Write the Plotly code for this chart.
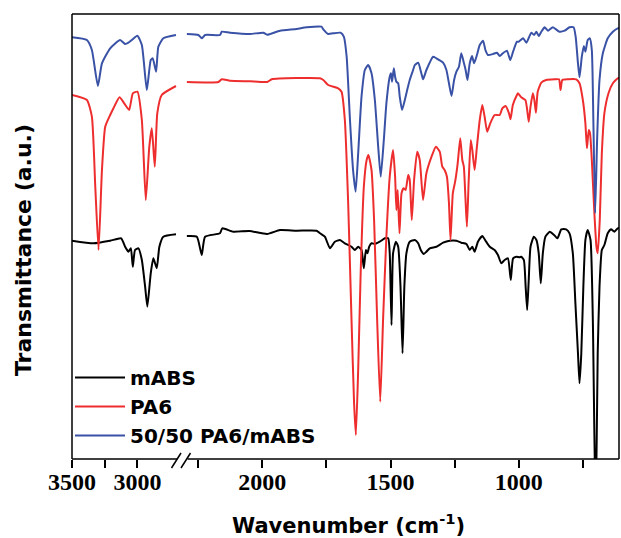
import plotly.graph_objects as go

# ---------------- data (wavenumber in cm-1, transmittance in a.u., stacked) ----------------
# high-wavenumber segment (3500-2700)
mabs_wn_hi = [3500, 3335, 3208, 3124, 3094, 3068, 3050, 3035, 3018, 2992, 2966, 2941, 2924,
              2898, 2878, 2852, 2832, 2802, 2705]
mabs_t_hi = [217.3, 214.7, 217.3, 219.7, 211.3, 206.3, 209.7, 191.3, 208, 209.7, 198, 171.3, 151.3,
             184.7, 199.7, 189.7, 211.3, 221.3, 223.7]

pa6_wn_hi = [3500, 3386, 3348, 3322, 3297, 3271, 3246, 3208, 3183, 3137, 3101, 3063, 3035, 3000,
             2966, 2936, 2909, 2890, 2867, 2848, 2814, 2705]
pa6_t_hi = [363, 358, 341.3, 271.3, 208, 288, 331.3, 343, 349.7, 360.7, 354.7, 348, 364.7, 366.3,
            338, 258, 311.3, 329.7, 291.3, 344.7, 363, 372]

blend_wn_hi = [3500, 3386, 3348, 3302, 3271, 3208, 3132, 3094, 3068, 3043, 3000, 2966, 2928,
               2898, 2883, 2857, 2840, 2802, 2705]
blend_t_hi = [420.7, 418, 408, 372, 394.7, 409.7, 418, 414, 415.3, 418, 422.3, 413, 368,
              398, 399.7, 386.3, 411.3, 419.7, 423]

# low-wavenumber segment (2300-600)
mabs_wn_lo = [2294, 2255, 2236, 2223, 2165, 2156, 2113, 2050, 1981, 1931, 1866, 1788, 1775, 1756,
              1736, 1717, 1697, 1678, 1652, 1639, 1626, 1613, 1604, 1596, 1590, 1583, 1574, 1561,
              1542, 1522, 1509, 1503, 1496, 1490, 1479, 1470, 1461, 1453, 1446, 1438, 1425, 1405,
              1392, 1382, 1370, 1360, 1347, 1321, 1295, 1269, 1243, 1224, 1204, 1191, 1181, 1172,
              1159, 1142, 1127, 1113, 1094, 1081, 1068, 1055, 1042, 1031, 1022, 1009, 997, 990,
              980, 973, 967, 961, 954, 941, 931, 922, 914, 906, 896, 879, 862, 849, 834, 815, 802,
              789, 779, 769, 763, 756, 748, 740, 731, 720, 711, 700, 692, 685, 676, 666, 653, 640,
              627, 614, 608]
mabs_t_lo = [222, 221.3, 203, 221.3, 224.7, 229.7, 226.3, 227, 224, 228, 227.3, 227.3, 224.7, 221.3,
             209.7, 216.3, 218, 214.7, 211.3, 208, 211.3, 208, 189.7, 208, 204.7, 211.3, 214.7, 214,
             216.3, 219.7, 219.7, 204.7, 133, 204.7, 216.3, 211.3, 171.3, 104.7, 171.3, 204.7, 216.3, 218,
             214.7, 208, 204, 206.3, 209.7, 211.3, 215.3, 217.3, 217.3, 215.3, 214, 208, 211.3, 206.3,
             216.3, 222, 216.3, 211.3, 208, 203, 194.7, 198, 199.7, 178, 199.7, 201.3, 200.7, 201.3,
             198, 171.3, 148, 178, 211.3, 221.3, 218, 204.7, 174.7, 204.7, 221.3, 226.3, 223, 219.7, 228.7, 228.7, 224.7,
             204.7, 154.7, 104.7, 74.7, 104.7, 171.3, 218, 228, 218, 138, -60, 104.7, 171.3, 208, 213, 224.7, 228.7,
             226.3, 229.7, 230]

pa6_wn_lo = [2294, 2171, 2158, 2126, 2048, 1981, 1963, 1775, 1762, 1743, 1704, 1691, 1678, 1665,
             1652, 1642, 1635, 1626, 1616, 1604, 1593, 1586, 1574, 1564, 1552, 1540, 1529, 1516,
             1503, 1490, 1482, 1477, 1472, 1465, 1457, 1449, 1441, 1431, 1425, 1417, 1408, 1396,
             1386, 1373, 1360, 1340, 1323, 1308, 1298, 1289, 1280, 1272, 1266, 1257, 1248, 1238,
             1228, 1220, 1214, 1208, 1202, 1195, 1187, 1181, 1172, 1163, 1152, 1142, 1133, 1123,
             1111, 1094, 1074, 1064, 1051, 1038, 1032, 1023, 1007, 1003, 990, 974, 967, 961, 954,
             945, 939, 933, 926, 912, 893, 860, 843, 837, 830, 808, 776, 763, 750, 740, 734, 727,
             722, 715, 705, 697, 692, 684, 676, 666, 650, 633, 614, 608]
pa6_t_lo = [376, 376, 378.7, 377.3, 376.7, 376, 378.7, 379.7, 378, 373, 369.7, 366.3, 338, 254.7,
            138, 54.7, 23, 88, 188, 271.3, 298, 303, 288, 238, 138, 56.3, 138, 221.3,
            281.3, 308, 281.3, 248, 268, 224.7, 264.7, 269.7, 268, 283, 278, 238, 278, 306.3,
            298, 258, 284.7, 301.3, 311.3, 306.3, 291.3, 288, 281.3, 254.7, 218, 264.7, 276.3, 294.7,
            319.7, 298, 291.3, 261.3, 231.3, 278, 318, 308, 288, 311.3, 338, 353, 341.3, 326.3,
            334.7, 343, 343, 349.7, 352, 344.7, 338.7, 353, 363, 364.7, 360.7, 358, 348, 336.3, 351.3,
            364.7, 358, 345.3, 366.3, 375.3, 378, 378.7, 378.7, 368, 378, 378.7, 378.7, 374.7, 358, 334.7, 309.7, 328,
            324.7, 298, 244.7, 211.3, 204.7, 238, 304.7, 344.7, 364.7, 374.7, 379.7, 380]

blend_wn_lo = [2294, 2249, 2236, 2223, 2165, 2158, 2126, 2048, 1996, 1981, 1931, 1866, 1827, 1769,
               1762, 1743, 1724, 1695, 1682, 1671, 1658, 1646, 1636, 1626, 1613, 1600, 1587, 1574,
               1561, 1548, 1538, 1526, 1516, 1503, 1498, 1494, 1487, 1482, 1477, 1470, 1464, 1455,
               1444, 1435, 1425, 1414, 1405, 1392, 1379, 1373, 1360, 1334, 1321, 1295, 1282, 1272,
               1262, 1252, 1243, 1233, 1224, 1215, 1207, 1200, 1191, 1182, 1174, 1163, 1152, 1139,
               1130, 1120, 1100, 1085, 1074, 1062, 1046, 1033, 1022, 1007, 1000, 983, 970, 951, 940,
               931, 922, 912, 899, 886, 867, 841, 821, 802, 786, 778, 769, 763, 754, 746, 740, 731,
               723, 715, 709, 702, 694, 685, 672, 653, 633, 614, 608]
blend_t_lo = [424, 423, 419.7, 423, 423, 426.3, 425.3, 424, 425.3, 423.3, 427.3, 429, 430.7, 431.3,
              428.7, 424, 424.7, 425.3, 421.3, 401.3, 338, 288, 266.3, 304.7, 361.3, 388, 393, 384.7,
              358, 311.3, 281.3, 318, 354.7, 381.3, 384.7, 376.3, 389.7, 381.3, 376.3, 374.7, 361.3, 348,
              358, 368, 378, 386.3, 393, 395.3, 384, 378.7, 388, 401.3, 399.7, 395.3, 388, 374.7,
              362, 378, 386.3, 391.3, 404.7, 396.3, 388, 378, 394.7, 402, 394.7, 403, 413, 417.3,
              408, 403, 404, 405.3, 402, 404.7, 407.3, 398, 406.3, 416.3, 416.3, 419.7, 415.3, 425.3, 423,
              426.3, 422, 426.3, 430.7, 427.3, 430.7, 426.3, 427.3, 430.7, 430.7, 421.3, 394.7, 380.7, 401.3, 412, 406.3, 418,
              419.7, 408, 338, 244.7, 321.3, 378, 404.7, 419.7, 426.3, 429.7, 430]

series = [
    ("mABS", "#000000", mabs_wn_hi, mabs_t_hi, mabs_wn_lo, mabs_t_lo),
    ("PA6", "#EE2E2E", pa6_wn_hi, pa6_t_hi, pa6_wn_lo, pa6_t_lo),
    ("50/50 PA6/mABS", "#3A52A6", blend_wn_hi, blend_t_hi, blend_wn_lo, blend_t_lo),
]

left_major = [3500, 3000]
left_minor = [3250]
right_major = [2000, 1500, 1000]
right_minor = [2250, 1750, 1250, 750]

# ---------------- figure ----------------
W, H = 621, 538
ML, MR, MT, MB = 72, 2, 14, 79
pw = W - ML - MR
ph = H - MT - MB
split_px = 182
split = (split_px - ML) / pw

fig = go.Figure()
for name, color, wh, th, wl, tl in series:
    fig.add_trace(go.Scatter(x=wh, y=th, mode="lines", name=name, legendgroup=name,
                             line=dict(color=color, width=2, shape="spline", smoothing=0.5),
                             xaxis="x", yaxis="y"))
    fig.add_trace(go.Scatter(x=wl, y=tl, mode="lines", name=name, legendgroup=name,
                             showlegend=False,
                             line=dict(color=color, width=2, shape="spline", smoothing=0.5),
                             xaxis="x2", yaxis="y"))

tickfont = dict(family="Liberation Serif, Times New Roman, serif", size=24, color="black",
                weight="bold")
common_x = dict(showline=False, showgrid=False, zeroline=False, ticks="outside",
                ticklen=8, tickwidth=1.5, tickcolor="black", tickfont=tickfont,
                tickmode="array", anchor="y", ticklabelstandoff=-7)
minor_style = dict(ticks="outside", ticklen=8, tickwidth=1.5, tickcolor="black", showgrid=False)
fig.update_layout(
    xaxis=dict(domain=[0, split], range=[3500, 2659], tickvals=left_major,
               minor=dict(tickmode="array", tickvals=left_minor, **minor_style), **common_x),
    xaxis2=dict(domain=[split, 1], range=[2313, 609], tickvals=right_major,
                minor=dict(tickmode="array", tickvals=right_minor, **minor_style), **common_x),
    yaxis=dict(range=[-1, 444], showticklabels=False, ticks="", showgrid=False,
               zeroline=False, showline=False),
)

def px2x(px):
    return (px - ML) / pw

def py2y(py):
    return (H - MB - py) / ph

line_style = dict(color="black", width=1.5)
shapes = [
    dict(type="line", xref="paper", yref="paper", x0=0, x1=1, y0=1, y1=1, line=line_style),
    dict(type="line", xref="paper", yref="paper", x0=0, x1=0, y0=0, y1=1, line=line_style),
    dict(type="line", xref="paper", yref="paper", x0=1, x1=1, y0=0, y1=1, line=line_style),
    dict(type="line", xref="paper", yref="paper", x0=0, x1=px2x(177.5), y0=0, y1=0, line=line_style),
    dict(type="line", xref="paper", yref="paper", x0=px2x(187.5), x1=1, y0=0, y1=0, line=line_style),
    dict(type="line", xref="paper", yref="paper", x0=px2x(171.5), x1=px2x(181), y0=py2y(468),
         y1=py2y(453), line=line_style),
    dict(type="line", xref="paper", yref="paper", x0=px2x(181), x1=px2x(190.5), y0=py2y(468),
         y1=py2y(453), line=line_style),
]

title_font = dict(family="DejaVu Sans", size=21, color="black", weight="bold")
annotations = [
    dict(text="Wavenumber (cm<sup>-1</sup>)", xref="paper", yref="paper", x=px2x(348),
         y=py2y(524), xanchor="center", yanchor="middle", showarrow=False, font=title_font),
    dict(text="Transmittance (a.u.)", xref="paper", yref="paper", x=px2x(23), y=py2y(250),
         xanchor="center", yanchor="middle", textangle=-90, showarrow=False,
         font=dict(family="DejaVu Sans", size=22, color="black", weight="bold")),
]

fig.update_layout(
    width=W, height=H,
    margin=dict(l=ML, r=MR, t=MT, b=MB, pad=0),
    paper_bgcolor="white", plot_bgcolor="white",
    shapes=shapes, annotations=annotations,
    showlegend=True,
    legend=dict(x=px2x(70), y=py2y(358), xanchor="left", yanchor="top",
                bgcolor="rgba(0,0,0,0)", borderwidth=0, itemwidth=50,
                font=dict(family="DejaVu Sans", size=20, color="black", weight="bold"),
                tracegroupgap=0, itemclick=False, itemdoubleclick=False),
)

fig.write_html("out.html", config={"displayModeBar": False},
               post_script="document.body.style.margin='0px';")
